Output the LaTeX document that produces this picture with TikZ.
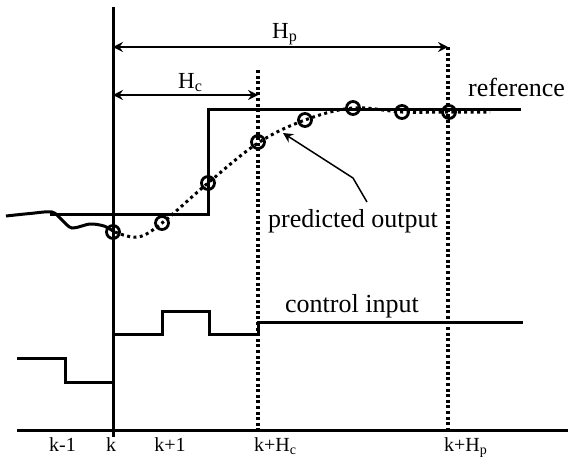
\documentclass[tikz,border=0pt]{standalone}
\usepackage{fontspec}
\setmainfont{Liberation Serif}
\usetikzlibrary{arrows.meta}
\begin{document}
\begin{tikzpicture}[x=1pt,y=-1pt,
  axisline/.style={line width=3pt},
  signal/.style={line width=3pt, line join=miter},
  horizon/.style={line width=3.4pt, dash pattern=on 3pt off 2.6pt},
  predline/.style={line width=3pt, dash pattern=on 3pt off 3.4pt},
  sample/.style={circle, draw, line width=2.8pt, minimum size=13pt, inner sep=0pt},
  dim/.style={line width=1.5pt, {Stealth[length=10pt,width=10pt,inset=3.5pt]}-{Stealth[length=10pt,width=10pt,inset=3.5pt]}},
  pointer/.style={line width=1.5pt, -{Stealth[length=10pt,width=10pt,inset=3.5pt]}},
  lbl/.style={anchor=base west, inner sep=0pt, font=\fontsize{26}{30}\selectfont},
  hlbl/.style={anchor=base west, inner sep=0pt, font=\fontsize{23}{27}\selectfont},
  ticklbl/.style={anchor=base, inner sep=0pt, font=\fontsize{20}{24}\selectfont},
]
\useasboundingbox (0,0) rectangle (568,456);

% time axis and the current instant k
\coordinate (kTop) at (113,7);
\coordinate (kBot) at (113,437);
\coordinate (axL) at (17,430);
\coordinate (axR) at (568,430);
\draw[axisline] (kTop) -- (kBot);
\draw[axisline] (axL) -- (axR);

% control and prediction horizons
\coordinate (hcTop) at (258,70);
\coordinate (hcBot) at (258,430);
\coordinate (hpTop) at (448,47);
\coordinate (hpBot) at (448,430);
\draw[horizon] (hcTop) -- (hcBot);
\draw[horizon] (hpTop) -- (hpBot);

\coordinate (hpA) at (113,47);
\coordinate (hpB) at (448,47);
\coordinate (hcA) at (113,95);
\coordinate (hcB) at (258,95);
\draw[dim] (hpA) -- (hpB);
\draw[dim] (hcA) -- (hcB);
\node[hlbl] (hpLabel) at (272,38) {H\textsubscript{p}};
\node[hlbl] (hcLabel) at (178,88) {H\textsubscript{c}};

% reference trajectory
\draw[signal] (50,214) -- (208,214) -- (208,109) -- (521,109);
\node[lbl] (refLabel) at (468,96) {reference};

% measured output up to k
\draw[signal] plot[smooth, tension=0.5] coordinates
  {(6,216) (30,213.5) (52,212) (62,220) (72,228) (90,224) (104,226) (113,231)};

% predicted output over the horizon
\draw[predline] plot[smooth, tension=0.6] coordinates
  {(115,232) (138,237) (162,223) (208,183) (258,143) (305,120) (353,108) (402,112) (449,112) (490,112)};
\foreach \px/\py [count=\i from 0] in
  {113/232, 162/223, 208/183, 258/142, 305/120, 353/108, 402/112, 449/112}
  \node[sample] (s\i) at (\px,\py) {};

\node[lbl] (predLabel) at (268,227) {predicted output};
\coordinate (pa) at (367,202);
\coordinate (pb) at (353,178);
\coordinate (pc) at (283,133);
\draw[pointer] (pa) -- (pb) -- (pc);

% control input sequence
\draw[signal] (17,358) -- (65,358) -- (65,382) -- (113,382) -- (113,334)
  -- (162,334) -- (162,311) -- (209,311) -- (209,334) -- (258,334)
  -- (258,322) -- (523,322);
\node[lbl] (uLabel) at (285,312) {control input};

% sampling instants
\node[ticklbl] (tkm1) at (62.5,451) {k-1};
\node[ticklbl] (tk) at (111,451) {k};
\node[ticklbl] (tkp1) at (170,451) {k+1};
\node[ticklbl, anchor=base west] (tkhc) at (254,451) {k+H\textsubscript{c}};
\node[ticklbl, anchor=base west] (tkhp) at (444,451) {k+H\textsubscript{p}};
\end{tikzpicture}
\end{document}
